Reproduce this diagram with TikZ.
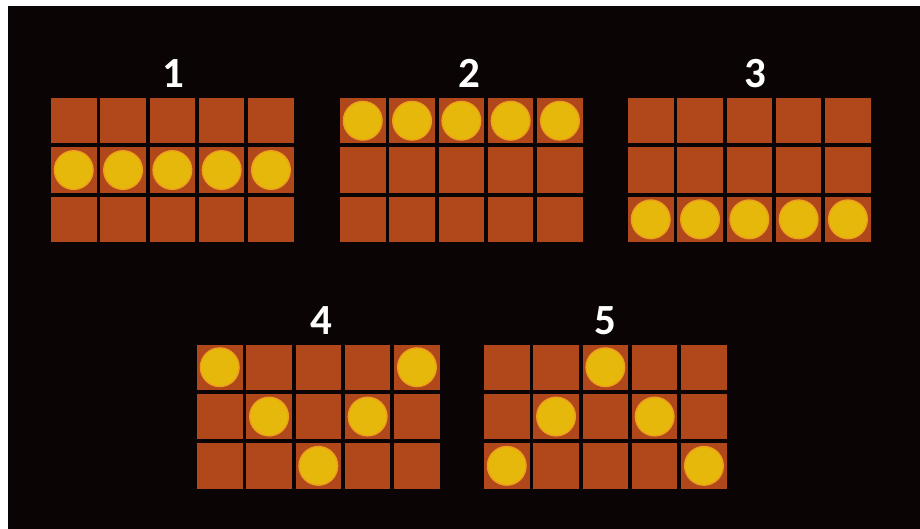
\documentclass[tikz,border=0pt]{standalone}
\usepackage{fontspec}
\setmainfont{Carlito}
\usepackage{tikz}
\usetikzlibrary{positioning}

\definecolor{bgdark}{HTML}{0A0404}
\definecolor{cellred}{HTML}{B0481C}
\definecolor{coinyel}{HTML}{E6B80C}
\definecolor{coinrim}{HTML}{EFA01A}

% #1 name, #2 x, #3 y (top left), #4 label x, #5 label, #6 coin row per column
\newcommand{\paygrid}[6]{%
  \node[num, anchor=base] (#1) at (#4, #3-10) {#5};
  \foreach \i in {0,...,4}
    \foreach \j in {0,1,2}
      \fill[cell] (#2+\i*49.3, #3+\j*49.3) rectangle ++(45.5,45.5);
  \foreach \r [count=\i from 0] in {#6}
    \filldraw[coin] (#2+\i*49.3+22.75, #3+\r*49.3-26.55) circle (19.3);
}

\begin{document}
\begin{tikzpicture}[
    x=1pt, y=-1pt,
    cell/.style={fill=cellred},
    coin/.style={fill=coinyel, draw=coinrim, line width=1.4pt},
    num/.style={text=white, font=\fontsize{43}{43}\selectfont\bfseries, inner sep=0pt},
]
% background
\fill[white] (0,0) rectangle (920,529);
\fill[bgdark] (8,6) rectangle (920,529);

\paygrid{n1}{51}{98}{173}{1}{2,2,2,2,2}
\paygrid{n2}{340}{98}{469}{2}{1,1,1,1,1}
\paygrid{n3}{628}{98}{755}{3}{3,3,3,3,3}
\paygrid{n4}{197}{344.5}{321}{4}{1,2,3,2,1}
\paygrid{n5}{484}{344.5}{605}{5}{3,2,1,2,3}
\end{tikzpicture}
\end{document}
